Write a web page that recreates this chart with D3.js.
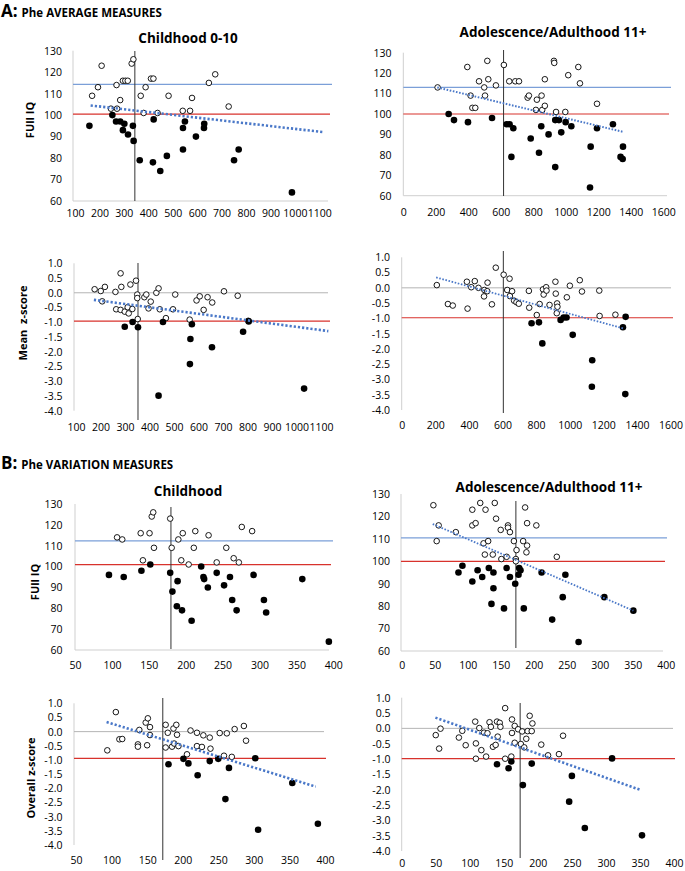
<!DOCTYPE html>
<html>
<head>
<meta charset="utf-8">
<script src="https://cdn.jsdelivr.net/npm/d3@7"></script>
<style>
  body { margin: 0; background: #fff; }
  text { font-family: "Open Sans", "Liberation Sans", sans-serif; fill: #000; }
</style>
</head>
<body>
<svg id="chart" width="685" height="871"></svg>
<script>
'use strict';

// tick labels
var iqTicks = [60, 70, 80, 90, 100, 110, 120, 130];
var zTicks = [1.0, 0.5, 0.0, -0.5, -1.0, -1.5, -2.0, -2.5, -3.0, -3.5, -4.0];
var avgChildTicks = [100, 200, 300, 400, 500, 600, 700, 800, 900, 1000, 1100];
var avgAdultTicks = [0, 200, 400, 600, 800, 1000, 1200, 1400, 1600];
var varChildTicks = [50, 100, 150, 200, 250, 300, 350, 400];
var varAdultTicks = [0, 50, 100, 150, 200, 250, 300, 350, 400];

// A: Phe average, childhood, Full IQ  [phe, value]
var a1Open = [[170,109],[194,113],[209,123],[247,103],[272,103],[270,114],[285,107],[296,116],[306,116],[316,116],[332,124],[339,126],[381,101],[369,109],[389,113],[411,117],[421,117],[438,101],[483,109],[541,102],[571,102],[579,108],[648,115],[674,119],[729,104]];
var a1Filled = [[159,95],[253,100],[268,97],[285,97],[302,96],[296,93],[317,91],[337,95],[340,88],[365,79],[422,98],[419,78],[449,74],[476,81],[542,94],[550,97],[542,84],[595,90],[629,96],[628,94],[751,79],[770,84],[988,64]];
var a1Ref = [114.3, 100.5, 345];   // blue line, red line, phe cut
var a1Trend = [[164,104.5],[1115,92.1]];

// A: Phe average, adolescence/adulthood, Full IQ
var a2Open = [[211,113],[394,123],[414,109],[425,103],[443,103],[466,116],[498,113],[503,109],[517,126],[523,117],[570,114],[619,124],[652,116],[689,116],[712,116],[765,108],[773,109],[822,107],[816,102],[851,109],[855,102],[871,104],[871,117],[927,126],[929,125],[940,101],[997,101],[1015,119],[1077,123],[1087,115],[1192,105]];
var a2Filled = [[279,100],[312,97],[398,96],[546,98],[636,95],[654,95],[677,93],[665,79],[784,88],[835,81],[849,94],[894,90],[935,97],[958,97],[999,96],[972,91],[1034,94],[935,74],[1153,84],[1149,64],[1192,93],[1290,95],[1352,84],[1337,79],[1350,78]];
var a2Ref = [113.0, 100.0, 617];
var a2Trend = [[209,113],[1350,91.3]];

// A: Phe average, childhood, mean z-score
var a3Open = [[176,0.12],[201,0.06],[218,0.20],[207,-0.29],[261,0.03],[264,-0.56],[282,0.66],[285,0.20],[282,-0.58],[299,-0.64],[311,-0.49],[315,-0.70],[322,0.28],[330,-0.55],[345,0.41],[350,-0.06],[350,-0.18],[352,-0.89],[379,-0.15],[387,-0.06],[396,-0.53],[405,-0.30],[428,0.00],[437,0.15],[442,-0.56],[467,-0.86],[496,-0.56],[505,-0.06],[564,-0.91],[592,-0.26],[605,-0.12],[621,-0.58],[637,-0.15],[656,-0.33],[704,0.05],[760,-0.10],[803,-0.95]];
var a3Filled = [[299,-1.15],[331,-0.99],[353,-1.17],[455,-0.99],[573,-1.07],[567,-1.57],[565,-2.42],[437,-3.49],[655,-1.85],[782,-1.32],[805,-0.97],[1031,-3.25]];
var a3Ref = [0, -0.96, 353];
var a3Trend = [[173,-0.24],[1130,-1.30]];

// A: Phe average, adolescence/adulthood, mean z-score
var a4Open = [[209,0.09],[275,-0.53],[304,-0.58],[388,0.20],[392,-0.68],[414,0.02],[435,0.22],[457,0.00],[492,-0.07],[490,-0.28],[511,0.17],[509,-0.11],[537,-0.54],[560,0.66],[607,0.43],[628,-0.07],[642,0.30],[644,-0.27],[657,-0.11],[669,-0.42],[683,-0.47],[697,-0.52],[757,-0.10],[759,-0.65],[804,-0.89],[821,-0.53],[841,-0.05],[845,-0.22],[860,0.02],[862,-0.09],[880,-0.56],[915,0.20],[917,-0.19],[925,-0.51],[927,-0.62],[923,-0.83],[983,-0.31],[1001,0.07],[1060,0.25],[1073,-0.12],[1176,-0.09],[1178,-0.92],[1272,-0.88]];
var a4Filled = [[773,-1.16],[817,-1.13],[837,-1.82],[946,-1.05],[964,-0.97],[981,-0.97],[1018,-1.54],[1134,-2.37],[1132,-3.24],[1317,-1.29],[1333,-0.95],[1331,-3.48]];
var a4Ref = [0, -0.98, 605];
var a4Trend = [[205,0.34],[1321,-1.33]];

// B: Phe variation, childhood, Full IQ
var b1Open = [[107,114],[114,113],[139,116],[151,116],[142,103],[154,124],[156,126],[157,109],[179,123],[181,109],[190,113],[196,116],[194,103],[204,101],[211,109],[213,117],[231,115],[242,102],[255,109],[265,104],[272,102],[276,119],[290,117]];
var b1Filled = [[96,96],[116,95],[140,98],[152,101],[179,97],[182,88],[189,93],[188,81],[195,79],[208,74],[221,100],[224,95],[225,94],[230,90],[242,97],[252,91],[260,95],[263,84],[269,79],[292,96],[306,84],[309,78],[358,94],[394,64]];
var b1Ref = [112.3, 100.9, 180];

// B: Phe variation, adolescence/adulthood, Full IQ
var b2Open = [[48,125],[56,116],[53,109],[82,113],[107,116],[112,117],[107,123],[119,126],[127,123],[124,108],[131,109],[126,103],[138,103],[141,126],[143,119],[150,114],[161,116],[161,115],[164,113],[151,101],[159,102],[170,109],[173,101],[174,105],[173,100],[184,109],[187,124],[190,117],[190,107],[189,104],[204,116],[235,102]];
var b2Filled = [[86,95],[92,98],[107,91],[115,96],[122,93],[132,97],[139,95],[139,88],[136,81],[155,79],[159,97],[164,93],[172,90],[178,97],[177,94],[180,96],[185,79],[212,95],[228,74],[244,84],[248,94],[268,64],[307,84],[351,78]];
var b2Ref = [110.4, 100.0, 173];
var b2Trend = [[47,116.6],[351,78.0]];

// B: Phe variation, childhood, overall z-score
var b3Open = [[94,-0.66],[106,0.69],[111,-0.27],[115,-0.26],[137,-0.45],[137,-0.53],[139,0.06],[148,0.32],[151,0.47],[150,-0.48],[154,0.16],[154,-0.12],[176,0.24],[176,-0.56],[179,-0.04],[187,0.11],[191,0.24],[192,-0.11],[185,-0.53],[188,-0.42],[194,-0.51],[206,-0.80],[211,0.04],[220,-0.04],[220,-0.51],[229,-0.13],[227,-0.54],[238,-0.21],[239,-0.60],[252,-0.05],[258,-0.85],[262,-0.06],[269,-0.89],[273,0.09],[286,0.20],[289,-0.32]];
var b3Filled = [[180,-1.15],[201,-0.96],[208,-1.12],[221,-1.54],[238,-1.04],[250,-0.96],[260,-2.38],[265,-1.28],[302,-0.94],[306,-3.46],[354,-1.81],[390,-3.25]];
var b3Ref = [0, -0.94, 172];
var b3Trend = [[93,0.34],[387,-1.94]];

// B: Phe variation, adolescence/adulthood, overall z-score
var b4Open = [[50,-0.22],[57,-0.01],[55,-0.66],[84,-0.30],[89,-0.08],[94,-0.55],[108,0.22],[109,-0.49],[109,-0.99],[114,0.01],[117,-0.71],[121,-0.14],[124,-0.92],[126,-0.16],[129,0.20],[131,0.05],[134,-0.60],[138,-0.54],[140,0.22],[141,-0.27],[144,0.18],[145,0.05],[152,0.66],[152,-0.99],[161,-0.92],[162,0.29],[162,-0.15],[166,0.08],[166,-0.47],[171,-0.03],[175,-0.51],[177,-0.10],[180,-0.62],[183,-0.34],[185,-0.09],[188,0.41],[191,-0.09],[192,0.16],[205,-0.53],[215,-0.88],[231,-0.84],[237,-0.24]];
var b4Filled = [[140,-1.17],[157,-1.30],[161,-1.08],[178,-1.85],[191,-1.15],[246,-2.39],[250,-1.55],[269,-3.25],[309,-0.98],[353,-3.49]];
var b4Ref = [0, -0.99, 174];
var b4Trend = [[49.5,0.35],[351,-2.01]];

var svg = d3.select('#chart');
svg.append('rect').attr('width', 685).attr('height', 871).attr('fill', '#fff');

var panels = [
  { open: a1Open, filled: a1Filled, ref: a1Ref, trend: a1Trend, iq: true, xTicks: avgChildTicks,
    xd: [100, 1100], xr: [75, 319.3], yr: [201, 50.7], axL: 73, axR: 328, vTop: 51, vBot: 201,
    xLabY: 213, yLabX: 62, trendW: 2.6 },
  { open: a2Open, filled: a2Filled, ref: a2Ref, trend: a2Trend, iq: true, xTicks: avgAdultTicks,
    xd: [0, 1600], xr: [403.3, 663.3], yr: [195.7, 52.7], axL: 403.3, axR: 667, vTop: 50, vBot: 196,
    xLabY: 212.7, yLabX: 391.5, trendW: 2.0 },
  { open: a3Open, filled: a3Filled, ref: a3Ref, trend: a3Trend, iq: false, xTicks: avgChildTicks,
    xd: [100, 1100], xr: [76, 321], yr: [410.7, 263.3], axL: 74, axR: 328, vTop: 263, vBot: 420,
    xLabY: 427.3, yLabX: 62.5, trendW: 2.6 },
  { open: a4Open, filled: a4Filled, ref: a4Ref, trend: a4Trend, iq: false, xTicks: avgAdultTicks,
    xd: [0, 1600], xr: [401.7, 670.5], yr: [410, 257.3], axL: 401.7, axR: 671, vTop: 251, vBot: 413,
    xLabY: 425.3, yLabX: 390, trendW: 1.8 },
  { open: b1Open, filled: b1Filled, ref: b1Ref, trend: null, iq: true, xTicks: varChildTicks,
    xd: [50, 400], xr: [75, 333.3], yr: [650, 504], axL: 75, axR: 329, vTop: 507, vBot: 649,
    xLabY: 665, yLabX: 62.5, trendW: 0 },
  { open: b2Open, filled: b2Filled, ref: b2Ref, trend: b2Trend, iq: true, xTicks: varAdultTicks,
    xd: [0, 400], xr: [401.7, 665.7], yr: [651, 494], axL: 401, axR: 663, vTop: 501, vBot: 648,
    xLabY: 665.7, yLabX: 390, trendW: 1.8 },
  { open: b3Open, filled: b3Filled, ref: b3Ref, trend: b3Trend, iq: false, xTicks: varChildTicks,
    xd: [50, 400], xr: [76, 325], yr: [845, 703.3], axL: 74, axR: 324, vTop: 698, vBot: 860,
    xLabY: 860, yLabX: 62.5, trendW: 2.6 },
  { open: b4Open, filled: b4Filled, ref: b4Ref, trend: b4Trend, iq: false, xTicks: varAdultTicks,
    xd: [0, 400], xr: [401.7, 674], yr: [851, 697.7], axL: 401.7, axR: 673, vTop: 703, vBot: 858,
    xLabY: 863, yLabX: 390.5, trendW: 2.6 }
];

function drawPanel(p) {
  var x = d3.scaleLinear().domain(p.xd).range(p.xr);
  var y = d3.scaleLinear().domain(p.iq ? [60, 130] : [-4, 1]).range(p.yr);
  var g = svg.append('g');
  var yBase = p.iq ? y(60) : y(0);

  // y axis labels (Excel style: no ticks)
  var ya = d3.axisLeft(y)
    .tickValues(p.iq ? iqTicks : zTicks)
    .tickSize(0)
    .tickFormat(function(d){ return p.iq ? d : d.toFixed(1); });
  var yg = g.append('g').attr('transform', 'translate(' + p.yLabX + ',0)').call(ya);
  yg.select('.domain').remove();
  yg.selectAll('text').attr('x', 0).style('font-size', '10.5px').style('font-family', '"Open Sans", sans-serif');

  var xa = d3.axisBottom(x).tickValues(p.xTicks).tickSize(0).tickFormat(d3.format('d'));
  var xg = g.append('g').attr('transform', 'translate(0,' + p.xLabY + ')').call(xa);
  xg.select('.domain').remove();
  xg.selectAll('text').attr('y', 0).attr('dy', '0.35em').style('font-size', '10.5px').style('font-family', '"Open Sans", sans-serif');

  // axis lines
  g.append('line').attr('x1', p.axL).attr('x2', p.axL).attr('y1', p.yr[1]).attr('y2', p.yr[0])
    .attr('stroke', '#cfcfcf').attr('stroke-width', 1);
  g.append('line').attr('x1', p.axL).attr('x2', p.axR).attr('y1', yBase).attr('y2', yBase)
    .attr('stroke', p.iq ? '#cfcfcf' : '#b4b4b4').attr('stroke-width', 1);

  // reference lines
  if (p.iq) {
    g.append('line').attr('x1', p.axL).attr('x2', p.axR + 4).attr('y1', y(p.ref[0])).attr('y2', y(p.ref[0]))
      .attr('stroke', '#7b9fd8').attr('stroke-width', 1.2);
  }
  g.append('line').attr('x1', p.axL).attr('x2', p.axR + 2).attr('y1', y(p.ref[1])).attr('y2', y(p.ref[1]))
    .attr('stroke', '#d8322c').attr('stroke-width', 1.2);
  g.append('line').attr('x1', x(p.ref[2])).attr('x2', x(p.ref[2])).attr('y1', p.vTop).attr('y2', p.vBot)
    .attr('stroke', '#333').attr('stroke-width', 1);

  // points
  g.selectAll('circle.open').data(p.open).enter().append('circle')
    .attr('class', 'open')
    .attr('cx', function(d){ return x(d[0]); })
    .attr('cy', function(d){ return y(d[1]); })
    .attr('r', 2.8)
    .attr('fill', '#fff').attr('stroke', '#000').attr('stroke-width', 0.9);
  g.selectAll('circle.filled').data(p.filled).enter().append('circle')
    .attr('class', 'filled')
    .attr('cx', function(d){ return x(d[0]); })
    .attr('cy', function(d){ return y(d[1]); })
    .attr('r', 3.3)
    .attr('fill', '#000');

  // trend line
  if (p.trend) {
    g.append('path').datum(p.trend)
      .attr('d', d3.line().x(function(d){ return x(d[0]); }).y(function(d){ return y(d[1]); }))
      .attr('fill', 'none').attr('stroke', '#4a78c8').attr('stroke-width', p.trendW)
      .attr('stroke-dasharray', p.trendW > 2 ? '2.2,2' : '1.6,1.6');
  }
}

panels.forEach(drawPanel);

// headers
function header(letter, label, yPos) {
  var t = svg.append('text').attr('x', 1).attr('y', yPos).style('font-weight', 700);
  t.append('tspan').style('font-size', '17px').text(letter);
  t.append('tspan').attr('dx', 4).style('font-size', '11.5px').text(label);
}
header('A:', 'Phe AVERAGE MEASURES', 17);
header('B:', 'Phe VARIATION MEASURES', 469);

var titles = [
  ['Childhood 0-10', 188, 38],
  ['Adolescence/Adulthood 11+', 553, 32],
  ['Childhood', 188, 491],
  ['Adolescence/Adulthood 11+', 549, 487]
];
titles.forEach(function(t){
  svg.append('text').attr('x', t[1]).attr('y', t[2]).attr('dy', '0.35em')
    .attr('text-anchor', 'middle').style('font-size', '13.5px').style('font-weight', 700).text(t[0]);
});

var yTitles = [
  ['FUll IQ', 30, 120],
  ['Mean  z-score', 23, 323],
  ['FUll IQ', 35, 582],
  ['Overall z-score', 31, 778]
];
yTitles.forEach(function(t){
  svg.append('text').attr('transform', 'translate(' + t[1] + ',' + t[2] + ') rotate(-90)')
    .attr('dy', '0.35em').attr('text-anchor', 'middle')
    .style('font-size', '11px').style('font-weight', 700).style('white-space', 'pre').text(t[0]);
});
</script>
</body>
</html>
